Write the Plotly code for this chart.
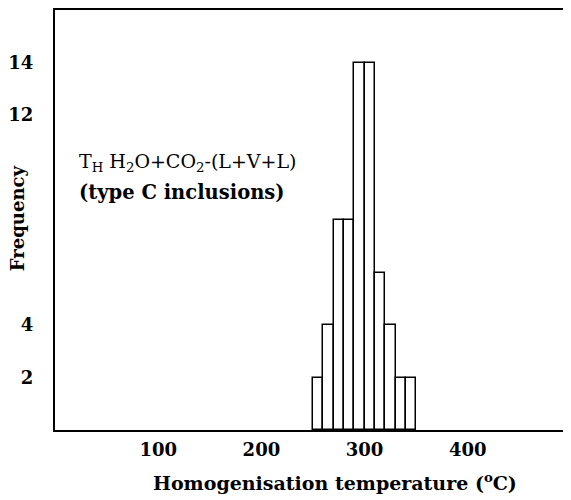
import plotly.graph_objects as go

bin_starts = [250, 260, 270, 280, 290, 300, 310, 320, 330, 340]
counts = [2, 4, 8, 8, 14, 14, 6, 4, 2, 2]
bin_width = 10
x_ticks = [100, 200, 300, 400]
y_ticks = [2, 4, 12, 14]

centers = [s + bin_width / 2 for s in bin_starts]

FONT = "DejaVu Serif"

fig = go.Figure()
fig.add_trace(go.Bar(
    x=centers, y=counts, width=[bin_width] * len(counts),
    marker=dict(color="white", line=dict(color="black", width=1.5)),
    showlegend=False,
))

# the page body adds an 8px margin, so the figure is 8px smaller each way
fig.update_layout(
    width=563, height=492,
    margin=dict(l=45, r=0, t=2, b=70),
    plot_bgcolor="white", paper_bgcolor="white",
    font=dict(family=FONT, color="black", size=16),
    xaxis=dict(
        range=[0, 500], tickvals=x_ticks, showgrid=False, zeroline=False,
        showline=True, linecolor="black", linewidth=2, mirror=True,
        ticks="", tickfont=dict(family=FONT, size=18, weight="bold"),
        ticklabelstandoff=2,
    ),
    yaxis=dict(
        range=[0, 16], tickvals=y_ticks, showgrid=False, zeroline=False,
        showline=True, linecolor="black", linewidth=2, mirror=False,
        ticks="", tickfont=dict(family=FONT, size=18, weight="bold"),
        ticklabelstandoff=16,
    ),
    bargap=0,
)

fig.add_annotation(
    text="Homogenisation temperature (<sup>o</sup>C)",
    xref="paper", yref="paper", x=(334 - 53) / 518, y=-(482 - 430) / 420,
    xanchor="center", yanchor="middle", showarrow=False,
    font=dict(family=FONT, size=19, weight="bold"),
)
fig.add_annotation(
    text="Frequency", textangle=-90,
    xref="paper", yref="paper", x=-(53 - 15) / 518, y=(430 - 218) / 420,
    xanchor="center", yanchor="middle", showarrow=False,
    font=dict(family=FONT, size=18, weight="bold"),
)
fig.add_annotation(
    text="T<sub>H</sub> H<sub>2</sub>O+CO<sub>2</sub>-(L+V+L)",
    xref="paper", yref="paper", x=(75 - 53) / 518, y=(430 - 162) / 420,
    xanchor="left", yanchor="middle", showarrow=False,
    font=dict(family=FONT, size=19),
)
fig.add_annotation(
    text="(type C inclusions)",
    xref="paper", yref="paper", x=(75 - 53) / 518, y=(430 - 192) / 420,
    xanchor="left", yanchor="middle", showarrow=False,
    font=dict(family=FONT, size=19.5, weight="bold"),
)

fig.write_html("out.html")
